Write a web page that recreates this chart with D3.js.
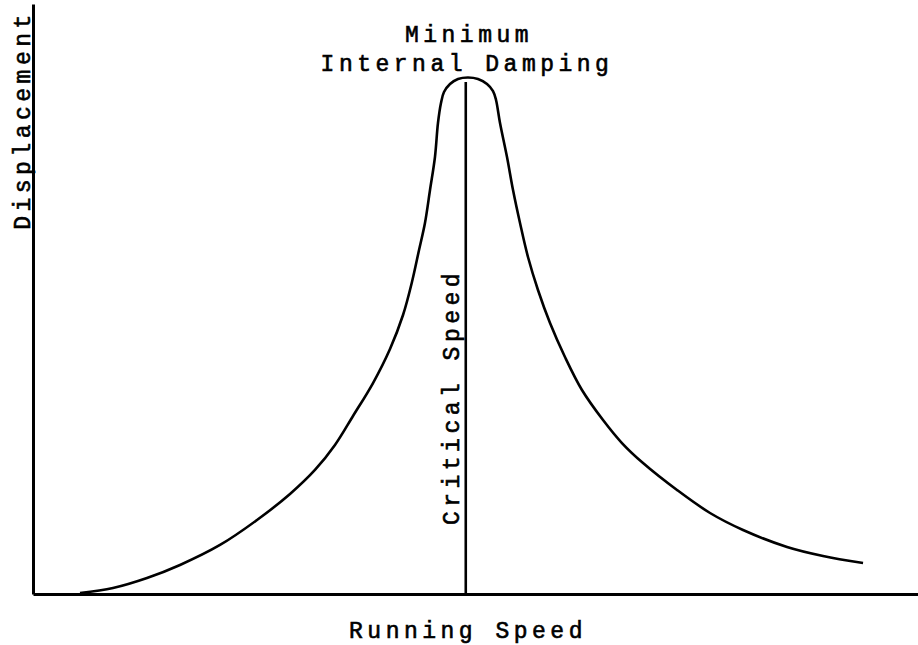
<!DOCTYPE html>
<meta charset="utf-8">
<style>
body { margin: 0; background: #fff; }
.axis path { stroke: #000; stroke-width: 3px; }
.curve { fill: none; stroke: #000; stroke-width: 2.6px; }
.crit { stroke: #000; stroke-width: 2.6px; }
text { font-family: "Liberation Mono", "DejaVu Sans Mono", monospace; font-size: 23px; fill: #000; stroke: #000; stroke-width: 0.6px; letter-spacing: 4.5px; }
</style>
<svg width="918" height="645"></svg>
<script src="https://d3js.org/d3.v7.min.js"></script>
<script>
// running speed (0-100) vs displacement (0-100)
var speed = [5.31, 9.04, 12.88, 16.61, 21.13, 25.31, 29.04, 31.86, 34.12, 36.16, 38.42, 40.34, 41.81, 42.82, 43.62, 44.29, 44.86, 45.42, 45.76, 46.10,
             46.44, 47.12, 48.02, 49.15, 50.28, 51.30, 51.98,
             52.32, 52.77, 53.56, 54.24, 55.03, 55.93, 57.06, 58.42, 60.11, 62.03, 64.41, 66.55, 68.93, 72.77, 76.50, 80.23, 85.20, 89.27, 93.79];
var displacement = [0.17, 1.02, 2.71, 4.92, 8.31, 12.54, 16.95, 21.02, 25.25, 30.17, 35.76, 41.53, 47.29, 52.88, 58.31, 62.88, 68.47, 74.07, 79.83, 83.22,
             85.08, 86.44, 87.29, 87.54, 87.29, 86.44, 85.25,
             83.73, 79.83, 74.07, 68.47, 62.88, 57.12, 51.53, 45.93, 40.17, 34.58, 29.49, 25.59, 22.20, 17.63, 13.73, 10.85, 7.97, 6.44, 5.25];
var criticalSpeed = 48.9;
var criticalTop = 86.8;
var titleLines = ["Minimum", "Internal Damping"];
var xLabel = "Running Speed";
var yLabel = "Displacement";
var critLabel = "Critical Speed";

var data = speed.map(function(s, i) { return {x: s, y: displacement[i]}; });

var svg = d3.select("svg");

var x = d3.scaleLinear().domain([0, 100]).range([33, 918]);
var y = d3.scaleLinear().domain([0, 100]).range([594, 4]);

svg.append("g")
    .attr("class", "axis")
    .attr("transform", "translate(0," + y(0) + ")")
    .call(d3.axisBottom(x).ticks(0).tickSizeOuter(0));

svg.append("g")
    .attr("class", "axis")
    .attr("transform", "translate(" + x(0) + ",0)")
    .call(d3.axisLeft(y).ticks(0).tickSizeOuter(0));

var line = d3.line()
    .x(function(d) { return x(d.x); })
    .y(function(d) { return y(d.y); })
    .curve(d3.curveCatmullRom.alpha(0.5));

svg.append("path")
    .datum(data)
    .attr("class", "curve")
    .attr("d", line);

svg.append("line")
    .attr("class", "crit")
    .attr("x1", x(criticalSpeed)).attr("x2", x(criticalSpeed))
    .attr("y1", y(criticalTop)).attr("y2", y(0));

svg.append("text")
    .attr("x", 469).attr("y", 42)
    .attr("text-anchor", "middle")
    .text(titleLines[0]);

svg.append("text")
    .attr("x", 467).attr("y", 71)
    .attr("text-anchor", "middle")
    .text(titleLines[1]);

svg.append("text")
    .attr("x", 468).attr("y", 638)
    .attr("text-anchor", "middle")
    .text(xLabel);

svg.append("text")
    .attr("transform", "translate(30,120) rotate(-90)")
    .attr("text-anchor", "middle")
    .text(yLabel);

svg.append("text")
    .attr("transform", "translate(459,397) rotate(-90)")
    .attr("text-anchor", "middle")
    .text(critLabel);
</script>
